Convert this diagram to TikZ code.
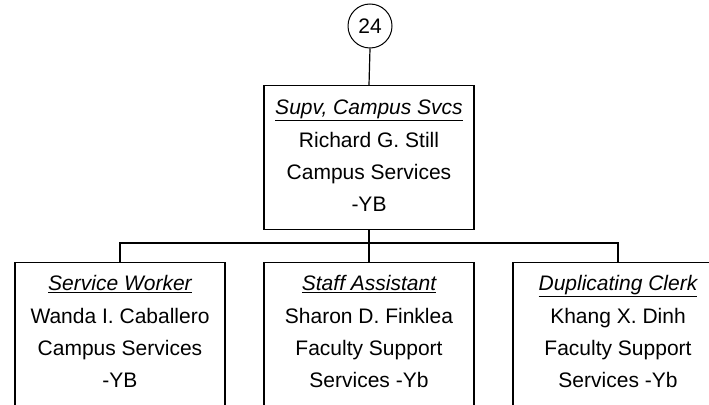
\documentclass[tikz,border=0pt]{standalone}
\usepackage{fontspec}
\setmainfont{Liberation Sans}
\begin{document}
\begin{tikzpicture}[x=1pt,y=-1pt,
  line width=1.2pt,
  box/.style={draw,rectangle,minimum width=210pt,inner sep=0pt,anchor=north},
  txt/.style={anchor=base,inner sep=0pt,font=\fontsize{21}{25}\selectfont},
  ttl/.style={anchor=base,inner sep=0pt,font=\fontsize{21}{25}\selectfont\itshape}]
\useasboundingbox (0,0) rectangle (709,404);
\clip (0,0) rectangle (709,404);
\node[draw,circle,minimum size=44pt,inner sep=0pt,line width=1pt,font=\fontsize{21}{25}\selectfont] (c) at (370,26) {24};
\node[box,minimum height=144pt] (top) at (369,85) {};
\node[box,minimum height=170pt] (b1) at (120,262) {};
\node[box,minimum height=170pt] (b2) at (369,262) {};
\node[box,minimum height=170pt] (b3) at (618,262) {};
\coordinate (bus) at (369,243);
\draw (c.south) -- (top.north);
\draw (top.south) -- (bus);
\draw (b1.north) |- (bus) -| (b3.north);
\draw (bus) -- (b2.north);
% top box text
\node[ttl] (t0) at (369,114.5) {\underline{Supv, Campus Svcs}};
\node[txt] (t1) at (369,147.5) {Richard G. Still};
\node[txt] (t2) at (369,179.5) {Campus Services};
\node[txt] (t3) at (369,211.5) {-YB};
% box 1
\node[ttl] (a0) at (120,290.5) {\underline{Service Worker}};
\node[txt] (a1) at (120,323.5) {Wanda I. Caballero};
\node[txt] (a2) at (120,355.5) {Campus Services};
\node[txt] (a3) at (120,387.5) {-YB};
% box 2
\node[ttl] (s0) at (369,290.5) {\underline{Staff Assistant}};
\node[txt] (s1) at (369,323.5) {Sharon D. Finklea};
\node[txt] (s2) at (369,355.5) {Faculty Support};
\node[txt] (s3) at (369,387.5) {Services -Yb};
% box 3
\node[ttl] (d0) at (618,290.5) {\underline{Duplicating Clerk}};
\node[txt] (d1) at (618,323.5) {Khang X. Dinh};
\node[txt] (d2) at (618,355.5) {Faculty Support};
\node[txt] (d3) at (618,387.5) {Services -Yb};
\end{tikzpicture}
\end{document}
